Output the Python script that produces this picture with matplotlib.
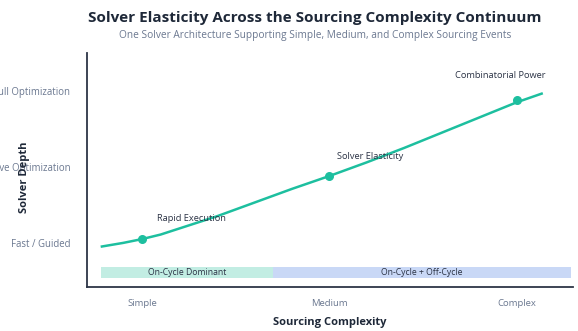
import matplotlib.pyplot as plt
import numpy as np

# ---- data ----
stage_labels = ["Simple", "Medium", "Complex"]
stage_pos = [0, 1, 2]
depth_labels = ["Fast / Guided", "Adaptive Optimization", "Full Optimization"]
depth_pos = [0, 1, 2]

# elasticity curve
curve_x = [-0.22, -0.1, 0.0, 0.1, 0.2, 0.3, 0.4, 0.5, 0.6, 0.7, 0.8, 0.9,
           1.0, 1.1, 1.2, 1.3, 1.4, 1.5, 1.6, 1.7, 1.8, 1.9, 2.0, 2.14]
curve_y = [-0.05, 0.0, 0.05, 0.11, 0.19, 0.27, 0.35, 0.44, 0.53, 0.62, 0.71, 0.795,
           0.88, 0.97, 1.06, 1.155, 1.25, 1.35, 1.45, 1.55, 1.65, 1.75, 1.85, 1.97]

# highlighted points
point_x = [0, 1, 2]
point_y = [0.05, 0.88, 1.88]
point_names = ["Rapid Execution", "Solver Elasticity", "Combinatorial Power"]
label_x = [0.08, 1.04, 1.67]
label_y = [0.32, 1.14, 2.20]

# event-cycle bands
band_names = ["On-Cycle Dominant", "On-Cycle + Off-Cycle"]
band_start = [-0.22, 0.70]
band_end = [0.70, 2.29]
band_colors = ["#c2ede3", "#c9d8f6"]

teal = "#1dbf9f"
dark = "#1e2838"
grey = "#6b7890"

plt.rcParams['font.family'] = ['Open Sans', 'DejaVu Sans']

fig = plt.figure(figsize=(5.78, 3.31), dpi=100)
ax = fig.add_axes([0.1505, 0.133, 0.8405, 0.707])

ax.plot(curve_x, curve_y, color=teal, lw=1.8, solid_capstyle='butt',
        solid_joinstyle='round')
ax.scatter(point_x, point_y, s=30, color=teal, zorder=3)
for nm, lx, ly in zip(point_names, label_x, label_y):
    ax.text(lx, ly, nm, fontsize=6.7, color="#2b3345", va='center', ha='left')

# bands
for nm, b0, b1, c in zip(band_names, band_start, band_end, band_colors):
    ax.fill_between([b0, b1], -0.46, -0.32, color=c, lw=0)
    ax.text((b0 + b1) / 2, -0.39, nm, fontsize=6.2, color="#2b3345",
            ha='center', va='center')

ax.set_xlim(-0.293, 2.30)
ax.set_ylim(-0.58, 2.5)

ax.set_xticks(stage_pos)
ax.set_xticklabels(stage_labels, fontsize=6.8, color=grey)
ax.set_yticks(depth_pos)
ax.set_yticklabels(depth_labels, fontsize=6.9, color=grey)
ax.tick_params(axis='both', length=0)
ax.tick_params(axis='y', pad=12)
ax.tick_params(axis='x', pad=9)

for s in ['top', 'right']:
    ax.spines[s].set_visible(False)
for s in ['left', 'bottom']:
    ax.spines[s].set_color("#2d3546")
    ax.spines[s].set_linewidth(1.3)

ax.set_xlabel("Sourcing Complexity", fontsize=8, fontweight='bold', color=dark)
ax.xaxis.set_label_coords(0.5, -0.13)
ax.set_ylabel("Solver Depth", fontsize=8, fontweight='bold', color=dark)
ax.yaxis.set_label_coords(-0.117, 0.47)

fig.text(0.545, 0.945, "Solver Elasticity Across the Sourcing Complexity Continuum",
         fontsize=11, fontweight='bold', color=dark, ha='center', va='center')
fig.text(0.545, 0.893, "One Solver Architecture Supporting Simple, Medium, and Complex Sourcing Events",
         fontsize=7.3, color=grey, ha='center', va='center')

fig.savefig("out.png", dpi=100)
